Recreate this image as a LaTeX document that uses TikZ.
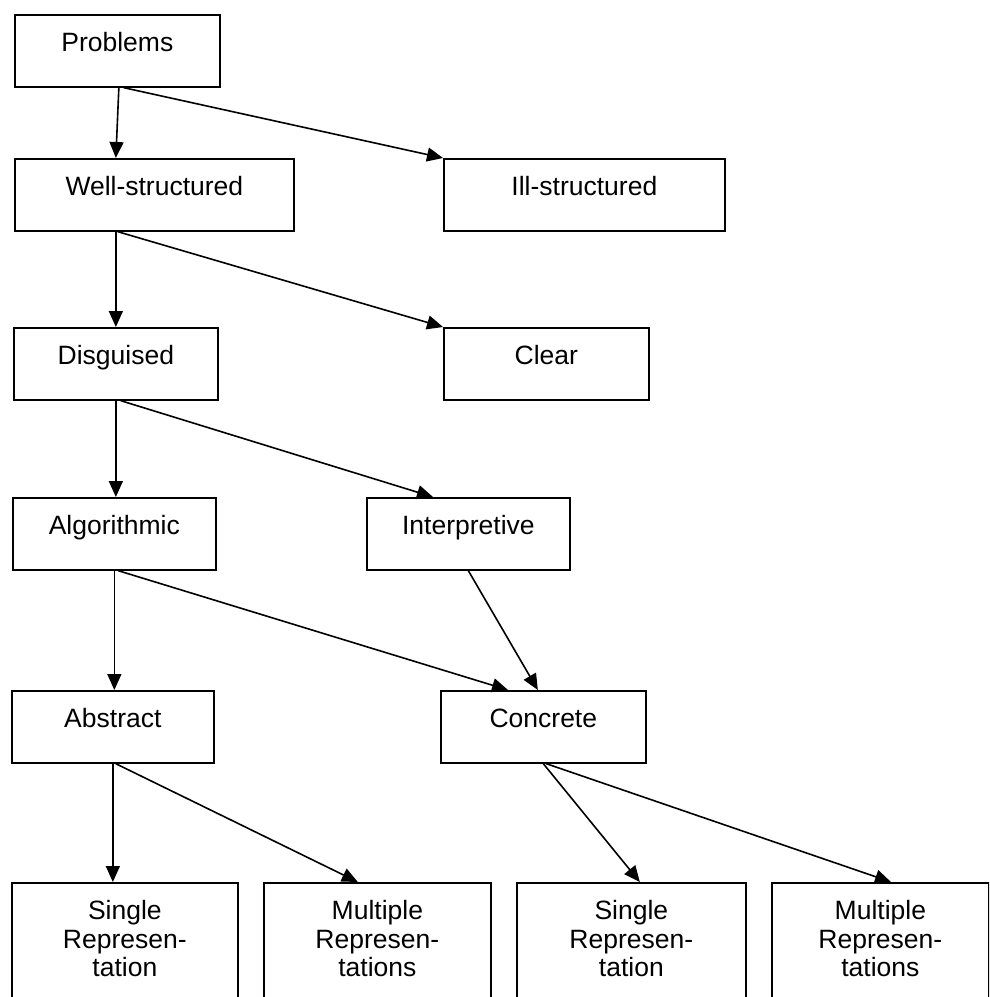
\documentclass[tikz,border=0pt]{standalone}
\usepackage{fontspec}
\setmainfont{Liberation Sans}
\usetikzlibrary{arrows.meta}

\begin{document}
\begin{tikzpicture}[x=1pt,y=-1pt,
    blk/.style={draw,line width=1.7pt,rectangle,anchor=north west,inner xsep=0pt,inner ysep=0pt,
      minimum height=72pt,text height=37pt,text depth=35pt,font=\fontsize{26.5}{28.5}\selectfont},
    lnk/.style={line width=1.6pt,-{Triangle[length=16pt,width=14pt]}}]
  \useasboundingbox (0,0) rectangle (989,997);
  \clip (0,0) rectangle (989,997);
  \node [blk,minimum width=205pt] (prob) at (14,14) {Problems};
  \node [blk,minimum width=279pt] (well) at (14,158) {Well-structured};
  \node [blk,minimum width=281pt] (ill) at (443,158) {Ill-structured};
  \node [blk,minimum width=204pt] (disg) at (13,327) {Disguised};
  \node [blk,minimum width=205pt] (clear) at (443,327) {Clear};
  \node [blk,minimum width=203pt] (algo) at (12,497) {Algorithmic};
  \node [blk,minimum width=203pt] (interp) at (366,497) {Interpretive};
  \node [blk,minimum width=202pt] (abst) at (11,690) {Abstract};
  \node [blk,minimum width=205pt] (conc) at (440,690) {Concrete};
  \node [blk,minimum width=226pt,text depth=140pt] (abs-single) at (11,882)
    {\begin{tabular}[t]{@{}c@{}}Single\\Represen-\\tation\end{tabular}};
  \node [blk,minimum width=227pt,text depth=140pt] (abs-multi) at (263,882)
    {\begin{tabular}[t]{@{}c@{}}Multiple\\Represen-\\tations\end{tabular}};
  \node [blk,minimum width=229pt,text depth=140pt] (con-single) at (516,882)
    {\begin{tabular}[t]{@{}c@{}}Single\\Represen-\\tation\end{tabular}};
  \node [blk,minimum width=217pt,text depth=140pt] (con-multi) at (771,882)
    {\begin{tabular}[t]{@{}c@{}}Multiple\\Represen-\\tations\end{tabular}};

  \draw [lnk] ([xshift=1.5pt]prob.south) -- ([xshift=-38.5pt]well.north);
  \draw [lnk] ([xshift=6.5pt]prob.south) -- (ill.north west);
  \draw [lnk] ([xshift=-38.5pt]well.south) -- (disg.north);
  \draw [lnk] ([xshift=-36.5pt]well.south) -- (clear.north west);
  \draw [lnk] (disg.south) -- ([xshift=1.5pt]algo.north);
  \draw [lnk] ([xshift=5pt]disg.south) -- ([xshift=67pt]interp.north west);
  \draw [lnk] (algo.south) -- ([xshift=1.5pt]abst.north);
  \draw [lnk] ([xshift=4pt]algo.south) -- ([xshift=68pt]conc.north west);
  \draw [lnk] (interp.south) -- ([xshift=-5.5pt]conc.north);
  \draw [lnk] (abst.south) -- ([xshift=-12pt]abs-single.north);
  \draw [lnk] ([xshift=3pt]abst.south) -- ([xshift=-19.5pt]abs-multi.north);
  \draw [lnk] (conc.south) -- ([xshift=8.5pt]con-single.north);
  \draw [lnk] ([xshift=3pt]conc.south) -- ([xshift=120pt]con-multi.north west);
\end{tikzpicture}
\end{document}
